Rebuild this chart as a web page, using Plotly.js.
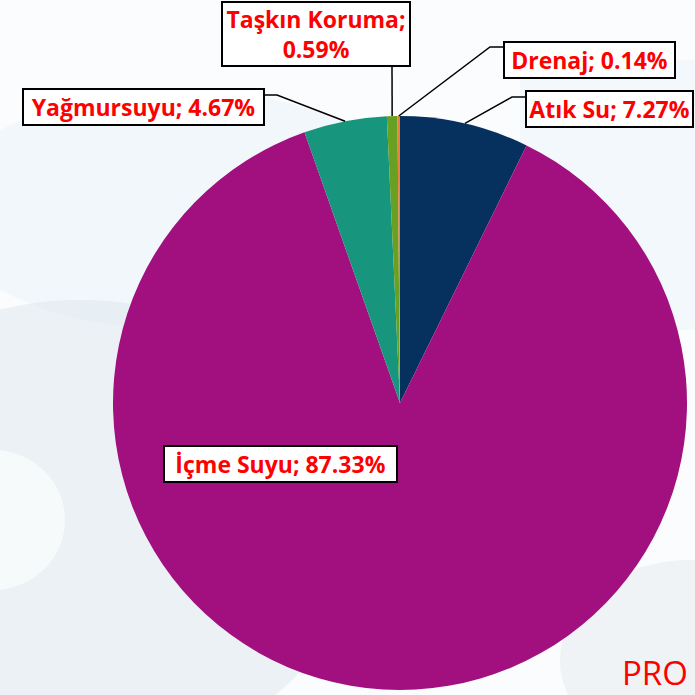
<!DOCTYPE html>
<html>
<head>
<meta charset="utf-8">
<script src="https://cdn.plot.ly/plotly-3.0.1.min.js"></script>
<style>html,body{margin:0;padding:0;background:#fff}#chart{width:695px;height:695px}</style>
</head>
<body>
<div id="chart"></div>
<script>
// ---- data ----
const labels = ['Atık Su', 'İçme Suyu', 'Yağmursuyu', 'Taşkın Koruma', 'Drenaj'];
const values = [7.27, 87.33, 4.67, 0.59, 0.14];
const colors = ['#06315f', '#a20f7f', '#17967d', '#68a023', '#e9813c'];
const wrapLabel = [false, false, false, true, false];

// ---- layout constants (pixels) ----
const W = 695, H = 695;
const CX = 400, CY = 403, R = 287;
// label boxes: [left, top, right, bottom]
const boxes = [[525, 90, 694, 128], [163, 445, 398, 483], [22, 88, 265, 126], [221, 1, 411, 67], [503, 41, 676, 79]];
const leaderPts = [
  [[512, 97], [525, 97]],
  null,
  [[277, 95], [265, 95]],
  [[392, 67]],
  [[490, 47], [503, 47]]
];

const px = x => x / W;
const py = y => 1 - y / H;

const total = values.reduce((a, b) => a + b, 0);
let cum = 0;
const anchors = values.map(v => {
  const mid = (cum + v / 2) / total;
  cum += v;
  const a = 2 * Math.PI * mid;
  return [CX + R * Math.sin(a), CY - R * Math.cos(a)];
});

const shapes = [
  // faint background watermark
  {type: 'rect', xref: 'paper', yref: 'paper', x0: 0, x1: 1, y0: 0, y1: 1, fillcolor: '#fafcfd', line: {width: 0}, layer: 'below'},
  {type: 'circle', xref: 'paper', yref: 'paper', x0: px(-60), x1: px(420), y0: py(90), y1: py(330), fillcolor: '#e7f2f9', line: {width: 0}, layer: 'below', opacity: 0.45},
  {type: 'circle', xref: 'paper', yref: 'paper', x0: px(-200), x1: px(360), y0: py(300), y1: py(760), fillcolor: '#dfe7ef', line: {width: 0}, layer: 'below', opacity: 0.55},
  {type: 'circle', xref: 'paper', yref: 'paper', x0: px(-80), x1: px(65), y0: py(450), y1: py(590), fillcolor: '#fafcfd', line: {width: 0}, layer: 'below', opacity: 0.8},
  {type: 'rect', xref: 'paper', yref: 'paper', x0: px(520), x1: px(695), y0: py(60), y1: py(330), fillcolor: '#e8f3fa', line: {width: 0}, layer: 'below', opacity: 0.45},
  {type: 'circle', xref: 'paper', yref: 'paper', x0: px(560), x1: px(820), y0: py(560), y1: py(760), fillcolor: '#e3e9f0', line: {width: 0}, layer: 'below', opacity: 0.5}
];

leaderPts.forEach((pts, i) => {
  if (!pts) return;
  const all = [anchors[i]].concat(pts);
  let d = 'M ' + px(all[0][0]) + ' ' + py(all[0][1]);
  for (let k = 1; k < all.length; k++) d += ' L ' + px(all[k][0]) + ' ' + py(all[k][1]);
  shapes.push({type: 'path', xref: 'paper', yref: 'paper', path: d, line: {color: '#000', width: 1.5}, layer: 'above'});
});

const BW = 2;
const annotations = labels.map((lab, i) => {
  const txt = lab + ';' + (wrapLabel[i] ? '<br>' : ' ') + values[i].toFixed(2) + '%';
  const b = boxes[i];
  return {
    xref: 'paper', yref: 'paper', x: px((b[0] + b[2]) / 2), y: py((b[1] + b[3]) / 2),
    xanchor: 'center', yanchor: 'middle', text: txt, showarrow: false, align: 'center',
    width: b[2] - b[0] - 2 * BW, height: b[3] - b[1] - 2 * BW,
    font: {family: 'Open Sans, sans-serif', size: 23, color: '#ff0000', weight: 'bold'},
    bgcolor: '#ffffff', bordercolor: '#000000', borderwidth: BW, borderpad: 0
  };
});
annotations.push({
  xref: 'paper', yref: 'paper', x: px(620), y: py(672), xanchor: 'left', yanchor: 'middle',
  text: 'PRO', showarrow: false, font: {family: 'Open Sans, sans-serif', size: 33, color: '#ff0000'}
});

const trace = {
  type: 'pie', labels: labels, values: values, sort: false, direction: 'clockwise', rotation: 0,
  marker: {colors: colors, line: {width: 0}}, textinfo: 'none', hoverinfo: 'none', showlegend: false,
  domain: {x: [(CX - R) / W, (CX + R) / W], y: [1 - (CY + R) / H, 1 - (CY - R) / H]}
};

Plotly.newPlot('chart', [trace], {
  width: W, height: H, margin: {l: 0, r: 0, t: 0, b: 0},
  paper_bgcolor: '#ffffff', plot_bgcolor: '#ffffff', showlegend: false,
  shapes: shapes, annotations: annotations
}, {staticPlot: true});
</script>
</body>
</html>
